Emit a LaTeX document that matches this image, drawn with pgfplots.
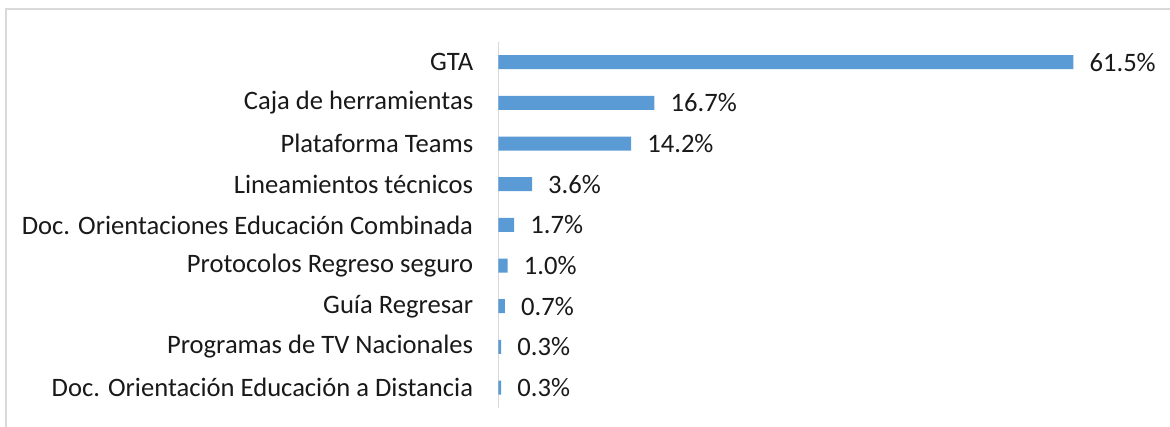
\documentclass[border=0pt]{standalone}
\usepackage{pgfplots}
\pgfplotsset{compat=1.18}
\usepackage{fontspec}
\setmainfont{Carlito}
\definecolor{barblue}{HTML}{5B9BD5}
\definecolor{gridgray}{HTML}{D9D9D9}
\begin{document}
\begin{tikzpicture}[x=1pt,y=1pt]
\path[use as bounding box] (0,0) rectangle (1170,427);
\draw[gridgray, line width=1.2pt] (6,0) -- (6,418) -- (1170,418);
\begin{axis}[
  at={(533,47)}, anchor=south west,
  scale only axis, width=654.5pt, height=366pt,
  xmin=0, xmax=70, ymin=-0.5, ymax=8.5,
  axis x line=none, axis y line*=left,
  y axis line style={draw=gridgray, line width=1.2pt},
  major tick length=0pt,
  ytick={0,1,2,3,4,5,6,7,8},
  yticklabels={Doc. Orientación Educación a Distancia, Programas de TV Nacionales, Guía Regresar, Protocolos Regreso seguro, Doc. Orientaciones Educación Combinada, Lineamientos técnicos, Plataforma Teams, Caja de herramientas, GTA},
  yticklabel style={font=\fontsize{26.6}{31}\selectfont, inner sep=0pt, xshift=-25pt, text=black!90},
  xbar, bar width=14pt, bar shift=0pt,
  nodes near coords={\pgfmathprintnumber[fixed,precision=1,fixed zerofill,assume math mode=true]{\pgfplotspointmeta}\%},
  nodes near coords style={font=\fontsize{26.6}{31}\selectfont, anchor=west, inner sep=0pt, xshift=16pt, text=black!90},
  point meta=x,
  clip=false,
]
\addplot[fill=barblue, draw=none] coordinates {
  (0.3,0) (0.3,1) (0.7,2) (1.0,3) (1.7,4) (3.6,5) (14.2,6) (16.7,7) (61.5,8)
};
\end{axis}
\end{tikzpicture}
\end{document}
